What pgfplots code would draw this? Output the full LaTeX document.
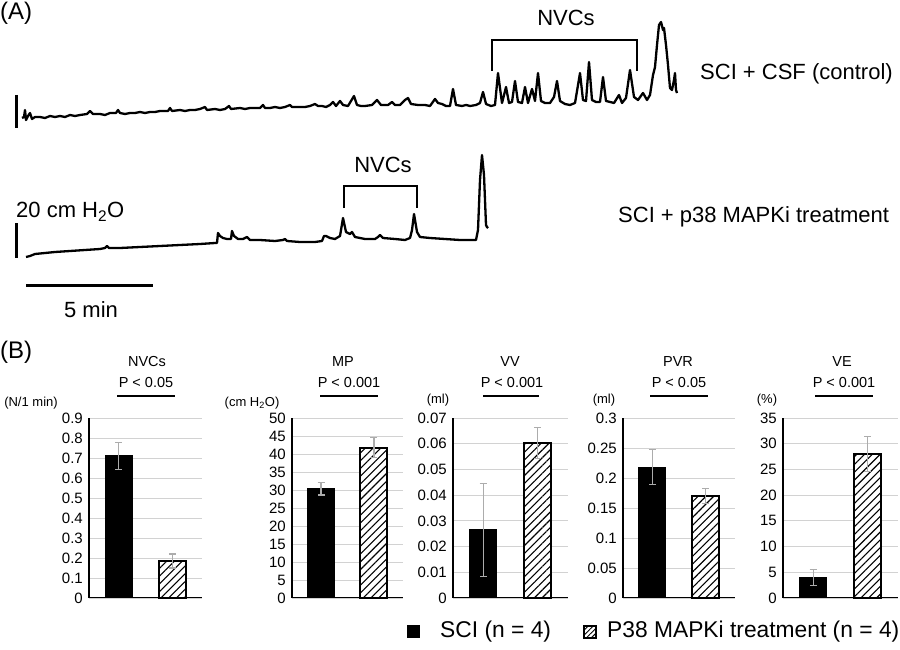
\documentclass[border=0pt]{standalone}
\usepackage{fontspec}
\setmainfont{Liberation Sans}
\usepackage{pgfplots}
\pgfplotsset{compat=1.18}
\usetikzlibrary{patterns.meta}

\tikzset{
  sm/.style={font=\fontsize{14.5}{16}\selectfont, inner sep=0pt},
  un/.style={font=\fontsize{13}{15}\selectfont, inner sep=0pt},
  bg/.style={font=\fontsize{22}{26}\selectfont, inner sep=0pt},
  lg/.style={font=\fontsize{22.8}{26}\selectfont, inner sep=0pt},
}
\pgfplotsset{
  barax/.style={scale only axis, height=180pt, anchor=south west,
    xmin=0.45, xmax=2.55, ymin=0, scaled y ticks=false,
    axis lines*=left, axis line style={black},
    x axis line style={line width=1pt},
    y axis line style={line width=2pt},
    xtick=\empty, major tick length=0pt,
    ymajorgrids, grid style={draw=gray!35, line width=0.9pt},
    yticklabel style={font=\fontsize{15}{17}\selectfont, inner sep=0pt, xshift=-6pt},
    ybar, bar width=27pt, bar shift=0pt, clip=false},
  sci/.style={fill=black, draw=black, line width=1pt,
    error bars/.cd, y dir=both, y explicit,
    error bar style={line width=1.2pt, draw=gray!65, solid},
    error mark options={rotate=90, mark size=3.5pt, line width=1.2pt, draw=gray!65}},
  p38/.style={draw=black, line width=2pt, preaction={fill=white},
    pattern={Lines[angle=45,distance=5.5pt,line width=1.1pt]},
    error bars/.cd, y dir=both, y explicit,
    error bar style={line width=1.2pt, draw=gray!65, solid},
    error mark options={rotate=90, mark size=3.5pt, line width=1.2pt, draw=gray!65}},
}

\begin{document}
\begin{tikzpicture}
% ---------- Panel A (pixel coordinates, y downward) ----------
\begin{axis}[at={(0,0)}, anchor=south west, scale only axis, width=900pt, height=650pt,
  xmin=0, xmax=900, ymin=0, ymax=650, y dir=reverse, hide axis, clip=false]
\addplot[black, line width=2.3pt, line join=round, no markers] coordinates {
(22,118)(24,117)(25,110)(26,120)(28,116)(30,113)(32,119)(35,117)(40,117)(45,118)(50,116)(55,117)(60,116)(65,117)(70,115)(75,116)(80,115)(87,114)(90,111)(93,114)(100,114)(105,115)(110,113)(116,113)(118,110)(120,113)(125,114)(130,113)(135,113)(140,112)(145,113)(150,112)(155,112)(160,111)(168,111)(170,108)(172,111)(180,110)(185,111)(190,110)(195,110)(200,109)(205,107)(207,110)(215,109)(220,110)(225,109)(229,106)(231,109)(240,108)(245,109)(250,108)(255,108)(260,108)(263,105)(265,108)(270,108)(275,107)(280,108)(285,107)(290,105)(292,107)(300,107)(305,107)(310,106)(315,104)(318,106)(322,106)(326,107)(330,105)(333,102)(336,106)(340,101)(343,105)(348,106)(354,96)(357,105)(361,106)(365,106)(372,105)(377,100)(381,105)(388,105)(392,102)(395,105)(400,105)(405,100)(408,98)(411,104)(418,105)(425,105)(430,106)(435,99)(438,103)(442,104)(446,106)(450,106)(453,89)(456,105)(462,106)(466,105)(470,106)(476,105)(480,103)(483,92)(486,104)(491,106)(495,105)(498,73)(502,103)(506,87)(509,103)(512,102)(515,81)(518,102)(522,103)(525,87)(528,103)(532,89)(535,101)(538,73)(541,101)(545,103)(550,103)(554,97)(557,81)(560,101)(565,104)(570,105)(575,103)(580,73)(583,100)(586,101)(589,62)(592,100)(596,102)(600,102)(603,77)(606,101)(610,102)(614,103)(619,95)(622,103)(626,98)(630,70)(634,97)(638,100)(643,93)(647,100)(650,95)(653,75)(655,67)(657,45)(659,25)(661,22)(663,30)(664,28)(666,45)(668,65)(670,88)(672,90)(674,80)(675,73)(676,90)(677,93)
};
\addplot[black, line width=2.3pt, line join=round, no markers] coordinates {
(26,257)(30,256)(35,254)(45,253)(55,252)(70,251)(85,250)(100,249)(105,248)(107,246)(109,248)(120,248)(140,247)(160,246)(180,245)(200,244)(215,243)(217,243)(218,233)(220,236)(223,238)(227,239)(231,239)(232,231)(234,236)(238,239)(243,239)(247,237)(250,240)(260,240)(275,241)(283,240)(285,239)(287,241)(300,242)(315,242)(322,241)(324,236)(326,236)(330,238)(335,239)(340,236)(343,218)(346,232)(350,234)(352,232)(355,237)(365,239)(375,239)(378,237)(380,235)(383,238)(395,239)(405,240)(410,238)(412,230)(414,214)(417,232)(420,237)(430,238)(445,239)(460,240)(470,240)(476,240)(478,230)(480,180)(482,155)(484,175)(486,225)(487,227)(488,228)
};
% scale bars
\draw[line width=3pt] (axis cs:16,95) -- (axis cs:16,128);
\draw[line width=3pt] (axis cs:16,223) -- (axis cs:16,258);
\draw[line width=3pt] (axis cs:26,285) -- (axis cs:153,285);
% brackets
\draw[line width=2pt] (axis cs:492,71) -- (axis cs:492,40) -- (axis cs:637,40) -- (axis cs:637,71);
\draw[line width=2pt] (axis cs:344,208) -- (axis cs:344,186) -- (axis cs:417,186) -- (axis cs:417,208);
% texts panel A
\node[font=\fontsize{24}{28}\selectfont, inner sep=0pt, anchor=west] at (axis cs:0,13) {(A)};
\node[font=\fontsize{24}{28}\selectfont, inner sep=0pt, anchor=west] at (axis cs:0,352) {(B)};
\node[bg] at (axis cs:566,18) {NVCs};
\node[bg] at (axis cs:383,165) {NVCs};
\node[bg, anchor=west] at (axis cs:700,74) {SCI + CSF (control)};
\node[bg, anchor=west] at (axis cs:618,217) {SCI + p38 MAPKi treatment};
\node[bg, anchor=west] at (axis cs:16,212) {20 cm H\textsubscript{2}O};
\node[bg] at (axis cs:91,310) {5 min};
% bar titles
\node[sm] at (axis cs:147,362) {NVCs};
\node[sm] at (axis cs:146,383) {P < 0.05};
\draw[line width=2pt] (axis cs:117,396) -- (axis cs:175,396);
\node[un] at (axis cs:31,403) {(N/1 min)};
\node[sm] at (axis cs:343,362) {MP};
\node[sm] at (axis cs:349,383) {P < 0.001};
\draw[line width=2pt] (axis cs:320,396) -- (axis cs:378,396);
\node[un] at (axis cs:252,403) {(cm H\textsubscript{2}O)};
\node[sm] at (axis cs:510,362) {VV};
\node[sm] at (axis cs:512,383) {P < 0.001};
\draw[line width=2pt] (axis cs:483,396) -- (axis cs:539,396);
\node[un] at (axis cs:438,400) {(ml)};
\node[sm] at (axis cs:678,362) {PVR};
\node[sm] at (axis cs:679,383) {P < 0.05};
\draw[line width=2pt] (axis cs:650,396) -- (axis cs:708,396);
\node[un] at (axis cs:604,400) {(ml)};
\node[sm] at (axis cs:842,362) {VE};
\node[sm] at (axis cs:844,383) {P < 0.001};
\draw[line width=2pt] (axis cs:815,396) -- (axis cs:873,396);
\node[un] at (axis cs:767,400) {(\%)};
% legend
\fill[black] (axis cs:407,625) rectangle (axis cs:420,638);
\node[lg, anchor=west] at (axis cs:440,632) {SCI (n = 4)};
\draw[line width=1.2pt, preaction={fill=white}, pattern={Lines[angle=45,distance=3.5pt,line width=0.9pt]}] (axis cs:584,626) rectangle (axis cs:596,638);
\node[lg, anchor=west] at (axis cs:607,632) {P38 MAPKi treatment (n = 4)};
\end{axis}

% ---------- Panel B bar charts ----------
\begin{axis}[barax, at={(89pt,52pt)}, width=113pt, ymax=0.9,
  ytick={0,0.1,0.2,0.3,0.4,0.5,0.6,0.7,0.8,0.9},
  yticklabels={0,0.1,0.2,0.3,0.4,0.5,0.6,0.7,0.8,0.9}]
\addplot[sci] coordinates {(1,0.71) +- (0,0.066)};
\addplot[p38] coordinates {(2,0.185) +- (0,0.035)};
\end{axis}
\begin{axis}[barax, at={(292pt,52pt)}, width=111pt, ymax=50,
  ytick={0,5,10,15,20,25,30,35,40,45,50},
  yticklabels={0,5,10,15,20,25,30,35,40,45,50}]
\addplot[sci] coordinates {(1,30.3) +- (0,1.7)};
\addplot[p38] coordinates {(2,41.8) +- (0,2.8)};
\end{axis}
\begin{axis}[barax, at={(453pt,52pt)}, width=115pt, ymax=0.07,
  ytick={0,0.01,0.02,0.03,0.04,0.05,0.06,0.07},
  yticklabels={0,0.01,0.02,0.03,0.04,0.05,0.06,0.07}]
\addplot[sci] coordinates {(1,0.0265) +- (0,0.018)};
\addplot[p38] coordinates {(2,0.0603) +- (0,0.006)};
\end{axis}
\begin{axis}[barax, at={(623pt,52pt)}, width=112pt, ymax=0.3,
  ytick={0,0.05,0.1,0.15,0.2,0.25,0.3},
  yticklabels={0,0.05,0.1,0.15,0.2,0.25,0.3}]
\addplot[sci] coordinates {(1,0.218) +- (0,0.029)};
\addplot[p38] coordinates {(2,0.170) +- (0,0.012)};
\end{axis}
\begin{axis}[barax, at={(783pt,52pt)}, width=115pt, ymax=35,
  ytick={0,5,10,15,20,25,30,35},
  yticklabels={0,5,10,15,20,25,30,35}]
\addplot[sci] coordinates {(1,4.0) +- (0,1.6)};
\addplot[p38] coordinates {(2,28.0) +- (0,3.4)};
\end{axis}
\pgfresetboundingbox
\path[use as bounding box] (0,0) rectangle (900pt,650pt);
\end{tikzpicture}
\end{document}
